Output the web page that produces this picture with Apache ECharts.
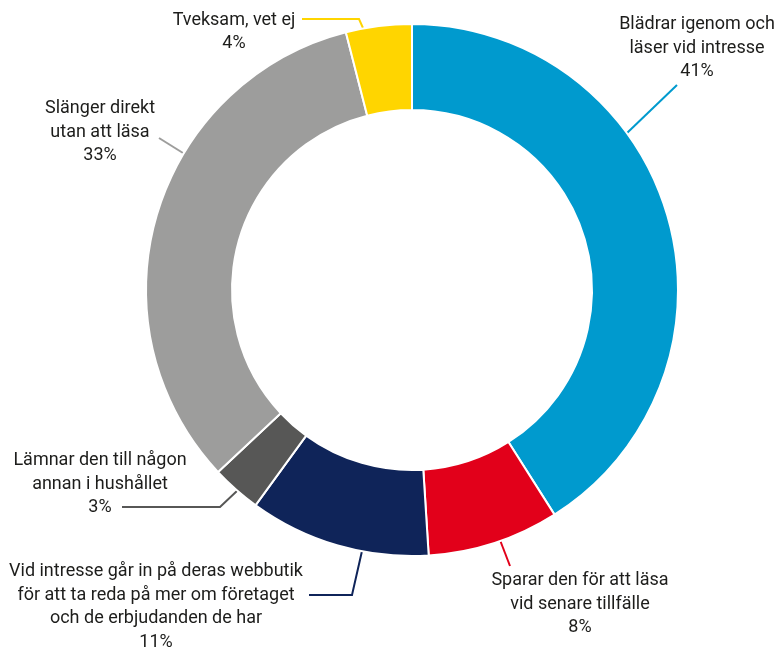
<!DOCTYPE html>
<html>
<head>
<meta charset="utf-8">
<script src="https://cdn.jsdelivr.net/npm/echarts@6/dist/echarts.min.js"></script>
<style>html,body{margin:0;padding:0;background:#fff}#c{width:779px;height:648px}</style>
</head>
<body>
<div id="c"></div>
<script>
// Data
const categories = [
  'Blädrar igenom och\nläser vid intresse',
  'Sparar den för att läsa\nvid senare tillfälle',
  'Vid intresse går in på deras webbutik\nför att ta reda på mer om företaget\noch de erbjudanden de har',
  'Lämnar den till någon\nannan i hushållet',
  'Slänger direkt\nutan att läsa',
  'Tveksam, vet ej'
];
const values = [41, 8, 11, 3, 33, 4];
const colors = ['#009ACE', '#E2001A', '#0F2459', '#575756', '#9D9D9C', '#FFD500'];

// Label layout (positions only)
const labelPos = [
  {x: 697, y: 48, line: [[627,133],[677,85]]},
  {x: 580, y: 604, line: [[500,540],[510,566]]},
  {x: 156, y: 607, line: [[362,551],[352,595],[309,595]]},
  {x: 100, y: 484, line: [[238,490],[220,507],[122,507]]},
  {x: 100, y: 132, line: [[183,153],[159,138]]},
  {x: 234, y: 32, line: [[363,28],[359,19],[302,19]]}
];

const chart = echarts.init(document.getElementById('c'), null, {renderer: 'canvas'});
chart.setOption({
  animation: false,
  series: [{
    type: 'pie',
    center: [412, 290],
    radius: [180, 266],
    startAngle: 90,
    clockwise: true,
    avoidLabelOverlap: false,
    itemStyle: {borderColor: '#ffffff', borderWidth: 2},
    label: {
      show: true,
      position: 'outside',
      formatter: p => p.name + '\n' + p.value + '%',
      color: '#1d1d1b',
      fontFamily: 'Roboto',
      fontSize: 18,
      lineHeight: 23.5,
      align: 'center'
    },
    labelLine: {show: true, length: 10, length2: 10, lineStyle: {width: 2}},
    labelLayout: function (p) {
      const L = labelPos[p.dataIndex];
      return {x: L.x, y: L.y, align: 'center', verticalAlign: 'middle', labelLinePoints: L.line};
    },
    data: categories.map((c, i) => ({
      name: c, value: values[i],
      itemStyle: {color: colors[i]},
      labelLine: {lineStyle: {color: colors[i]}}
    }))
  }]
});
</script>
</body>
</html>
